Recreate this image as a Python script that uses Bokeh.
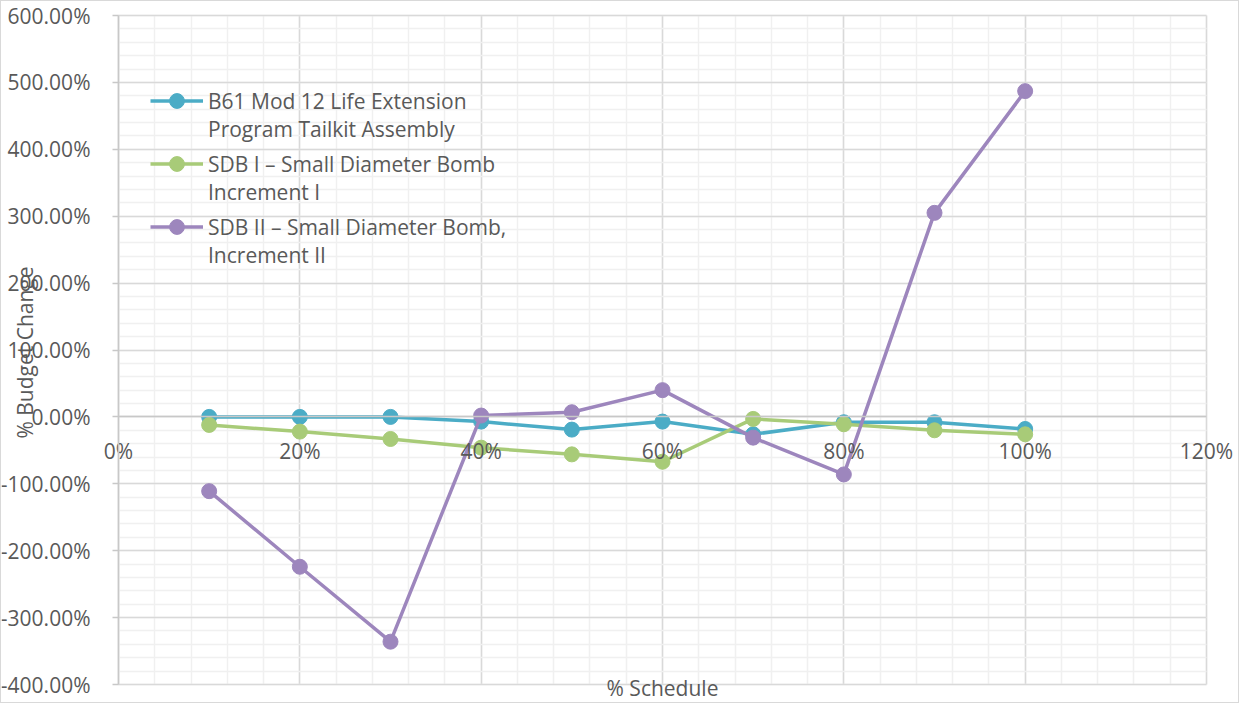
import math
from bokeh.plotting import figure
from bokeh.models import (Range1d, SingleIntervalTicker, PrintfTickFormatter, Legend,
                          LegendItem, Label, ColumnDataSource)
from bokeh.embed import file_html
from bokeh.resources import INLINE

schedule = [10, 20, 30, 40, 50, 60, 70, 80, 90, 100]
b61 = [0, 0, 0, -7, -19, -7, -26, -8, -8, -18]
sdb1 = [-12, -22, -33, -46, -56, -67, -3, -11, -20, -26]
sdb2 = [-111, -224, -336, 2, 7, 40, -31, -86, 305, 487]

names = [["B61 Mod 12 Life Extension", "Program Tailkit Assembly"],
         ["SDB I \u2013 Small Diameter Bomb", "Increment I"],
         ["SDB II \u2013 Small Diameter Bomb,", "Increment II"]]
colors = ["#4BACC6", "#A8CB78", "#9D86BD"]
series = [b61, sdb1, sdb2]

X_MIN, X_MAX = 0, 120
Y_MIN, Y_MAX = -400, 600

FONT = "Open Sans"
TXT = "#595959"

W, H = 1239, 703
# plot-area placement inside the figure (pixels)
PL, PR, PT, PB = 117, 1205, 14, 683
xs = (X_MAX - X_MIN) / (PR - PL)
ys = (Y_MAX - Y_MIN) / (PB - PT)
x_range = Range1d(X_MIN - PL * xs, X_MAX + (W - PR) * xs)
y_range = Range1d(Y_MIN - (H - PB) * ys, Y_MAX + PT * ys)

p = figure(width=W, height=H, output_backend="svg", toolbar_location=None,
           x_range=x_range, y_range=y_range,
           min_border_left=0, min_border_right=0, min_border_top=0, min_border_bottom=0)
p.styles = {"border": "1px solid #D9D9D9"}
p.outline_line_color = None
p.background_fill_color = "white"

# axes crossing at zero
p.xaxis.ticker = SingleIntervalTicker(interval=20, num_minor_ticks=5)
p.yaxis.ticker = SingleIntervalTicker(interval=100, num_minor_ticks=5)
p.xaxis.formatter = PrintfTickFormatter(format="%d%%")
p.yaxis.formatter = PrintfTickFormatter(format="%.2f%%")
p.xaxis.fixed_location = 0
p.yaxis.fixed_location = 0
p.xaxis.bounds = (X_MIN, X_MAX)
p.yaxis.bounds = (Y_MIN, Y_MAX)
for ax in (p.xaxis[0], p.yaxis[0]):
    ax.axis_line_color = "#C8C8C8"
    ax.axis_line_width = 1.5
    ax.minor_tick_line_color = None
    ax.major_label_text_font = FONT
    ax.major_label_text_font_size = "21px"
    ax.major_label_text_color = TXT
p.xaxis.major_tick_line_color = None
p.xaxis.major_tick_out = 0
p.xaxis.major_tick_in = 0
p.xaxis.major_label_standoff = 16
p.yaxis.major_tick_line_color = "#C8C8C8"
p.yaxis.major_tick_line_width = 1.5
p.yaxis.major_tick_out = 6
p.yaxis.major_tick_in = 0
p.yaxis.major_label_standoff = 22

# grids limited to the plot area
p.xgrid.bounds = (X_MIN, X_MAX)
p.xgrid.cross_bounds = (Y_MIN, Y_MAX)
p.ygrid.bounds = (Y_MIN, Y_MAX)
p.ygrid.cross_bounds = (X_MIN, X_MAX)
for g in (p.xgrid[0], p.ygrid[0]):
    g.grid_line_color = "#D9D9D9"
    g.grid_line_width = 1.5
    g.minor_grid_line_color = "#F0F0F0"
    g.minor_grid_line_width = 1.5

blank = p.line(x=[], y=[], line_alpha=0)
first_lines, second_lines = [], []
for name, col, yv in zip(names, colors, series):
    src = ColumnDataSource(dict(x=schedule, y=yv))
    r1 = p.line("x", "y", source=src, line_color=col, line_width=3.5)
    r2 = p.scatter("x", "y", source=src, size=15, fill_color=col, line_color=col)
    first_lines.append(LegendItem(label=name[0], renderers=[r1, r2]))
    second_lines.append(LegendItem(label=name[1], renderers=[blank]))

common = dict(background_fill_alpha=0, border_line_color=None, padding=0, margin=0,
              glyph_width=53, label_standoff=5, label_text_font=FONT,
              label_text_font_size="21px", label_text_color=TXT)
legend_a = Legend(items=first_lines, location=(149, 459), spacing=26, glyph_height=37, **common)
legend_b = Legend(items=second_lines, location=(149, 434), spacing=33, glyph_height=30, **common)
p.add_layout(legend_a, "center")
p.add_layout(legend_b, "center")

p.add_layout(Label(x=23, y=H - 351, x_units="screen", y_units="screen", text="% Budget Change",
                   angle=math.pi / 2, text_align="center", text_baseline="middle",
                   text_font=FONT, text_font_size="21px", text_color=TXT))
p.add_layout(Label(x=661, y=H - 686, x_units="screen", y_units="screen", text="% Schedule",
                   text_align="center", text_baseline="middle",
                   text_font=FONT, text_font_size="21px", text_color=TXT))

open("out.html", "w").write(file_html(p, INLINE))
